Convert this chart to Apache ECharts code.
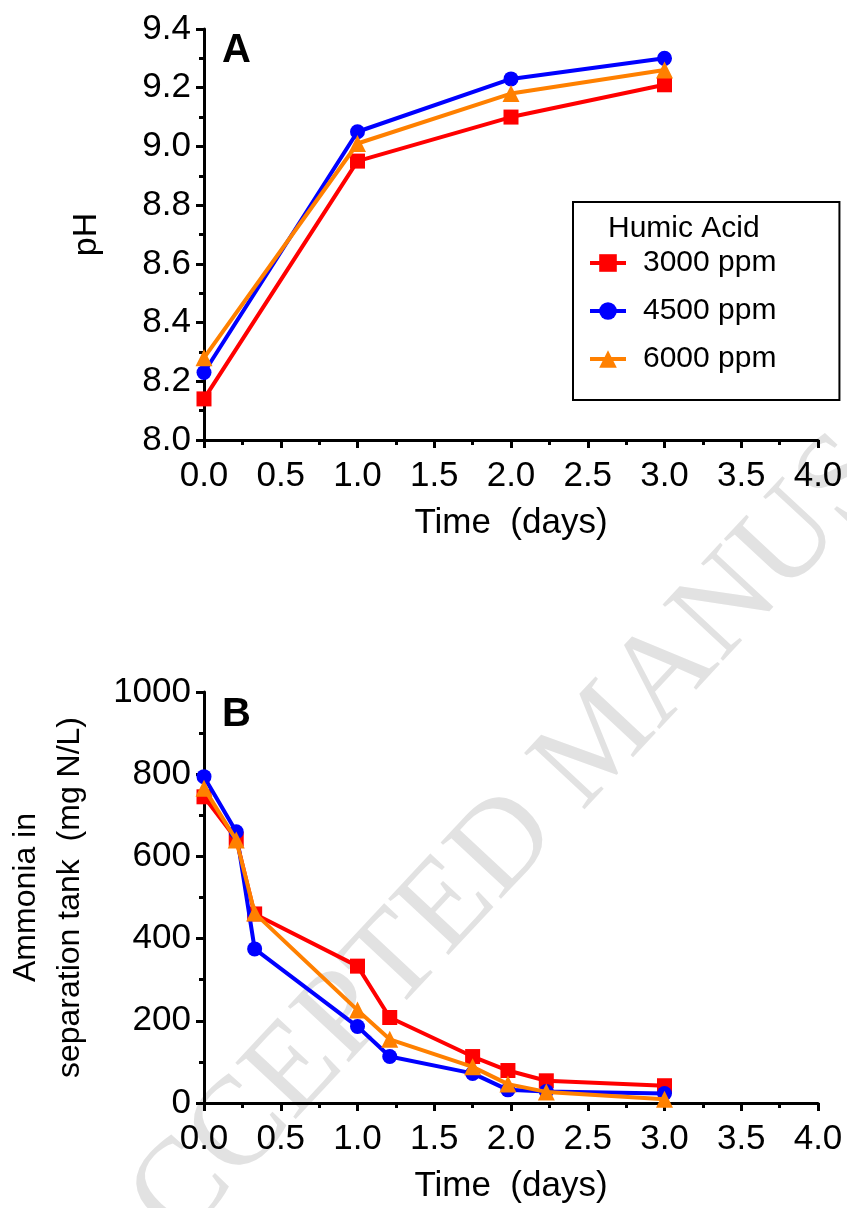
<!DOCTYPE html>
<html><head><meta charset="utf-8">
<script src="https://cdn.jsdelivr.net/npm/echarts@6/dist/echarts.min.js"></script>
<style>html,body{margin:0;padding:0;background:#fff}#c{width:847px;height:1208px}</style>
</head><body><div id="c"></div>
<script>
// ---- data ----
const seriesNames = ['3000 ppm', '4500 ppm', '6000 ppm'];
const legendTitle = 'Humic Acid';
const timeA = [0, 1, 2, 3];
const pH3000 = [8.14, 8.95, 9.10, 9.21];
const pH4500 = [8.23, 9.05, 9.23, 9.30];
const pH6000 = [8.28, 9.01, 9.18, 9.26];
const timeB = [0, 0.21, 0.33, 1.0, 1.21, 1.75, 1.98, 2.23, 3.0];
const nh3000 = [745, 642, 460, 333, 208, 113, 79, 54, 42];
const nh4500 = [794, 660, 375, 186, 113, 72, 32, 28, 23];
const nh6000 = [766, 640, 462, 226, 155, 88, 46, 27, 9];
const timeTicks = ['0.0', '0.5', '1.0', '1.5', '2.0', '2.5', '3.0', '3.5', '4.0'];
const pHTicks = ['8.0', '8.2', '8.4', '8.6', '8.8', '9.0', '9.2', '9.4'];
const nhTicks = ['0', '200', '400', '600', '800', '1000'];
const xTitle = 'Time  (days)';
const yTitleA = 'pH';
const yTitleB = 'Ammonia in\nseparation tank  (mg N/L)';
const panelLabels = ['A', 'B'];
const watermark = 'ACCEPTED MANUSCRIPT';

// ---- styling ----
const FONT = '"Liberation Sans", Arial, sans-serif';
const colors = ['#FF0000', '#0000FF', '#FF8000'];
const symbols = ['rect', 'circle', 'triangle'];
const symSizes = [15, 15, 17];

function pair(xs, ys) { return xs.map((x, i) => [x, ys[i]]); }
const nums = a => a.map(Number);

function xAxis(gi) {
  const t = nums(timeTicks);
  return {
    type: 'value', gridIndex: gi, min: t[0], max: t[t.length - 1], interval: t[1] - t[0],
    name: xTitle, nameLocation: 'middle', nameGap: 66,
    nameTextStyle: { fontFamily: FONT, fontSize: 35, color: '#000' },
    axisLine: { show: true, onZero: false, lineStyle: { color: '#000', width: 3 } },
    axisTick: { show: true, length: 8, lineStyle: { color: '#000', width: 3 } },
    minorTick: { show: true, splitNumber: 2, length: 5, lineStyle: { color: '#000', width: 3 } },
    splitLine: { show: false },
    axisLabel: { margin: 19, fontFamily: FONT, fontSize: 35, color: '#000',
      formatter: v => timeTicks[Math.round((v - t[0]) / (t[1] - t[0]))] },
  };
}
function yAxis(gi, ticks, name, gap, nameSize, lh) {
  const t = nums(ticks);
  return {
    type: 'value', gridIndex: gi, min: t[0], max: t[t.length - 1], interval: t[1] - t[0],
    name: name, nameLocation: 'middle', nameGap: gap, nameRotate: 90,
    nameTextStyle: { fontFamily: FONT, fontSize: nameSize, color: '#000', lineHeight: lh, align: 'center' },
    axisLine: { show: true, onZero: false, lineStyle: { color: '#000', width: 3 } },
    axisTick: { show: true, length: 8, lineStyle: { color: '#000', width: 3 } },
    minorTick: { show: true, splitNumber: 2, length: 5, lineStyle: { color: '#000', width: 3 } },
    splitLine: { show: false },
    axisLabel: { margin: 13, fontFamily: FONT, fontSize: 35, color: '#000',
      formatter: v => ticks[Math.round((v - t[0]) / (t[1] - t[0]))] },
  };
}
function line(i, xi, yi, data) {
  return {
    type: 'line', name: seriesNames[i], xAxisIndex: xi, yAxisIndex: yi, data: data,
    symbol: symbols[i], symbolSize: symSizes[i], showSymbol: true,
    lineStyle: { color: colors[i], width: 4 }, itemStyle: { color: colors[i] },
    animation: false, z: 2 + i,
  };
}

const chart = echarts.init(document.getElementById('c'), null, { renderer: 'canvas' });
chart.setOption({
  backgroundColor: '#fff',
  animation: false,
  grid: [
    { left: 204, right: 29, top: 29, bottom: 768, containLabel: false, outerBoundsMode: 'none' },
    { left: 204, right: 29, top: 692, bottom: 105, containLabel: false, outerBoundsMode: 'none' },
  ],
  xAxis: [xAxis(0), xAxis(1)],
  yAxis: [
    yAxis(0, pHTicks, yTitleA, 98, 34, 38),
    yAxis(1, nhTicks, yTitleB, 112, 32, 44),
  ],
  legend: {
    data: seriesNames, orient: 'vertical', left: 573, top: 202,
    itemWidth: 36, itemHeight: 22, itemGap: 18,
    padding: [46, 63, 26, 15],
    borderColor: '#000', borderWidth: 2, backgroundColor: '#fff',
    lineStyle: { width: 4 },
    textStyle: { fontFamily: FONT, fontSize: 30, color: '#000', padding: [0, 0, 0, 12], lineHeight: 30 },
  },
  graphic: [
    { type: 'text', left: 222, top: 31, z: 10,
      style: { text: panelLabels[0], font: 'bold 40px ' + FONT, fill: '#000' } },
    { type: 'text', left: 222, top: 695, z: 10,
      style: { text: panelLabels[1], font: 'bold 40px ' + FONT, fill: '#000' } },
    { type: 'text', left: 608, top: 214, z: 10,
      style: { text: legendTitle, font: '30px ' + FONT, fill: '#000' } },
    { type: 'text', x: 602, y: 742, rotation: 47 * Math.PI / 180, z: -10, silent: true,
      style: { text: watermark, font: '126px "Liberation Serif", serif', fill: '#e2e2e2',
        align: 'center', verticalAlign: 'middle' } },
  ],
  series: [
    line(0, 0, 0, pair(timeA, pH3000)),
    line(1, 0, 0, pair(timeA, pH4500)),
    line(2, 0, 0, pair(timeA, pH6000)),
    line(0, 1, 1, pair(timeB, nh3000)),
    line(1, 1, 1, pair(timeB, nh4500)),
    line(2, 1, 1, pair(timeB, nh6000)),
  ],
});
</script></body></html>
